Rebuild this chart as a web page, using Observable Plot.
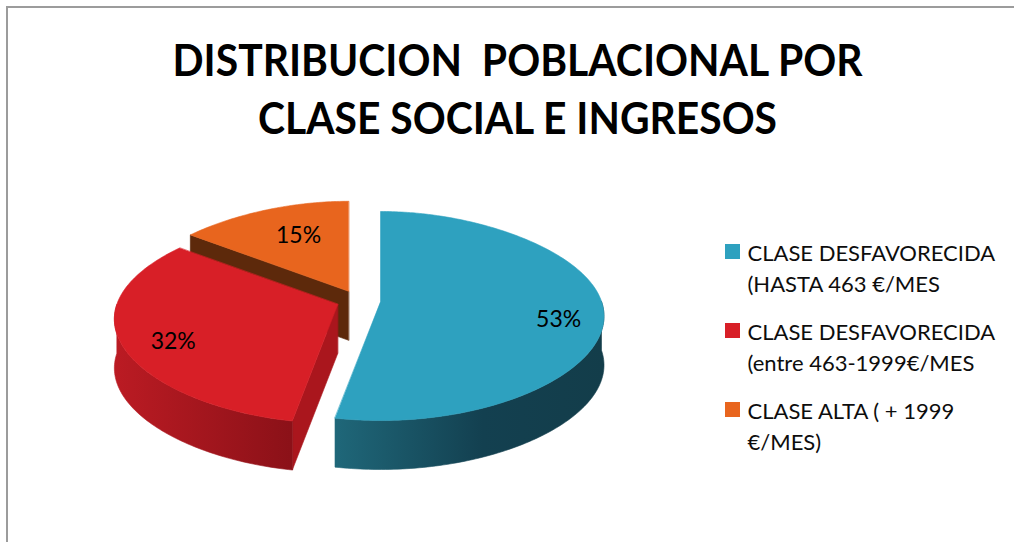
<!DOCTYPE html>
<html><head><meta charset="utf-8">
<script src="https://cdn.jsdelivr.net/npm/d3@7"></script>
<script src="https://cdn.jsdelivr.net/npm/@observablehq/plot@0.6"></script>
<style>
html,body{margin:0;padding:0;background:#fff;overflow:hidden;width:1014px;height:542px;}
#wrap{position:relative;width:1014px;height:542px;}
#frame{position:absolute;left:6px;top:6px;width:1100px;height:700px;border-top:2px solid #9c9c9c;border-left:2px solid #9c9c9c;pointer-events:none;}
svg text{white-space:pre;}
</style></head><body><div id="wrap"><div id="chart"></div><div id="frame"></div></div>
<script>
// ---------- data ----------
const title = ["DISTRIBUCION  POBLACIONAL POR", "CLASE SOCIAL E INGRESOS"];
const categories = ["CLASE DESFAVORECIDA (HASTA 463 €/MES", "CLASE DESFAVORECIDA (entre 463-1999€/MES", "CLASE ALTA ( + 1999 €/MES)"];
const legendLines = [["CLASE DESFAVORECIDA", "(HASTA 463 €/MES"], ["CLASE DESFAVORECIDA", "(entre 463-1999€/MES"], ["CLASE ALTA ( + 1999", "€/MES)"]];
const values = [53, 32, 15];
const labels = ["53%", "32%", "15%"];

// ---------- styles / layout ----------
const topColors = ["#2ea1bf", "#d81f27", "#e8651e"];
const cutColors = ["#1a5566", "#aa161d", "#5d290b"];
const rimStops = [
  [["0", "#1f6779"], ["0.55", "#134050"], ["1", "#133d4a"]],
  [["0", "#bb1b23"], ["1", "#8b1118"]],
  [["0", "#5d290b"], ["1", "#4a2009"]]
];
const W = 1014, H = 542;
const CX = 358, CY = 300, RX = 221, DEPTH = 49, EXPLODE = 0.1;
const LABEL_R = [0.8, 0.77, 0.55], LABEL_DY = [10, 6, -8];
const FONT = "Lato, 'Open Sans', sans-serif";

function proj(theta, r) {
  const c = Math.cos(theta) * r, s = Math.sin(theta) * r;
  const f = 1 - 0.16 * c - 0.06 * c * c;
  const ry = 104.5 - 14.5 * c;
  return [RX * f * s, -ry * c];
}

const total = d3.sum(values);
let acc = 0;
const slices = values.map((v, i) => {
  const t0 = acc / total * 2 * Math.PI; acc += v;
  const t1 = acc / total * 2 * Math.PI;
  const mid = (t0 + t1) / 2;
  const o = proj(mid, EXPLODE);
  return {i, t0, t1, mid, ox: CX + o[0], oy: CY + o[1]};
});

function rimPt(s, t, dz) { const p = proj(t, 1); return [s.ox + p[0], s.oy + p[1] + dz]; }
function arc(s, a, b, dz) {
  const n = Math.max(2, Math.ceil(Math.abs(b - a) / (Math.PI / 180)));
  return d3.range(n + 1).map(k => rimPt(s, a + (b - a) * k / n, dz));
}

const faces = [];
const order = slices.slice().sort((a, b) => Math.cos(b.mid) - Math.cos(a.mid));
for (const s of order) {
  const O = [s.ox, s.oy], Ob = [s.ox, s.oy + DEPTH];
  if (Math.sin(s.t0) < -1e-6) faces.push({pts: [O, rimPt(s, s.t0, 0), rimPt(s, s.t0, DEPTH), Ob], fill: cutColors[s.i]});
  if (Math.sin(s.t1) > 1e-6) faces.push({pts: [O, rimPt(s, s.t1, 0), rimPt(s, s.t1, DEPTH), Ob], fill: cutColors[s.i]});
  const a = Math.max(s.t0, Math.PI / 2), b = Math.min(s.t1, 3 * Math.PI / 2);
  if (a < b) faces.push({pts: [...arc(s, a, b, 0), ...arc(s, b, a, DEPTH)], fill: `url(#rim${s.i})`});
  faces.push({pts: [O, ...arc(s, s.t0, s.t1, 0)], fill: topColors[s.i]});
}

const LX = 725, LTX = 747, LB = 260, LG = 79, LL = 31, SW = 15;
const legendRows = legendLines.flatMap((lines, i) => lines.map((t, j) => ({i, t, y: LB + i * LG + j * LL})));
const swatches = categories.map((c, i) => ({i, c, y: LB + i * LG}));

const TITLE_X = 517, TITLE_Y0 = 75, TITLE_DY = 58;

const chart = Plot.plot({
  width: W, height: H, margin: 0,
  x: {domain: [0, W], range: [0, W], axis: null},
  y: {domain: [0, H], range: [0, H], axis: null},
  style: {background: "transparent"},
  marks: [
    ...faces.map(f => Plot.line(f.pts, {x: d => d[0], y: d => d[1], fill: f.fill, stroke: f.fill, strokeWidth: 0.6, curve: "linear-closed"})),
    Plot.text(slices, {
      x: s => s.ox + proj(s.mid, LABEL_R[s.i])[0],
      y: s => s.oy + proj(s.mid, LABEL_R[s.i])[1] + LABEL_DY[s.i],
      text: s => labels[s.i], fontSize: 23, fontFamily: FONT, fill: "#000", lineAnchor: "middle"
    }),
    Plot.text(title, {x: () => TITLE_X, y: (d, i) => TITLE_Y0 + i * TITLE_DY, text: d => d, fontSize: 44, fontWeight: "bold", fontFamily: FONT, fill: "#000", lineAnchor: "bottom", textAnchor: "middle"}),
    Plot.rect(swatches, {x1: () => LX, x2: () => LX + SW, y1: d => d.y - 16, y2: d => d.y - 16 + SW, fill: d => topColors[d.i]}),
    Plot.text(legendRows, {x: () => LTX, y: d => d.y, text: d => d.t, fontSize: 22, fontFamily: FONT, fill: "#0d0d0d", textAnchor: "start", lineAnchor: "bottom"})
  ]
});

// gradients for the curved sides
const ns = "http://www.w3.org/2000/svg";
const defs = document.createElementNS(ns, "defs");
rimStops.forEach((stops, i) => {
  const g = document.createElementNS(ns, "linearGradient");
  g.setAttribute("id", `rim${i}`);
  g.setAttribute("x1", "0"); g.setAttribute("x2", "1"); g.setAttribute("y1", "0"); g.setAttribute("y2", "0");
  for (const [off, col] of stops) {
    const st = document.createElementNS(ns, "stop");
    st.setAttribute("offset", off); st.setAttribute("stop-color", col);
    g.appendChild(st);
  }
  defs.appendChild(g);
});
chart.insertBefore(defs, chart.firstChild);
document.getElementById("chart").appendChild(chart);

// fit title widths (Calibri-like condensed look)
const titleWidths = [690, 519];
chart.querySelectorAll("text").forEach(t => {
  const k = title.indexOf(t.textContent);
  if (k >= 0) { t.setAttribute("textLength", titleWidths[k]); t.setAttribute("lengthAdjust", "spacingAndGlyphs"); }
});
</script></body></html>
